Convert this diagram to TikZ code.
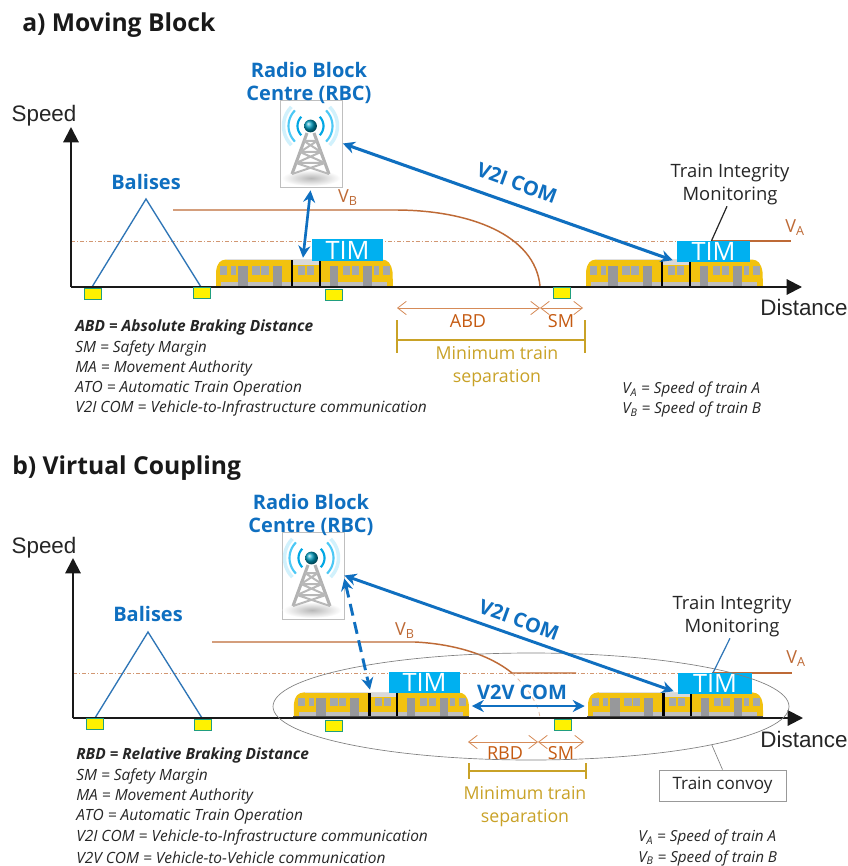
\documentclass[tikz,border=0pt]{standalone}
\usepackage{fontspec}
\setmainfont{Open Sans}
\newfontfamily\arialf{Liberation Sans}
\usetikzlibrary{arrows.meta,calc,shapes.geometric}
\definecolor{cblue}{HTML}{0F6FC0}
\definecolor{ctri}{HTML}{2E75B6}
\definecolor{cbrown}{HTML}{BE6A36}
\definecolor{ctext}{HTML}{C55A11}
\definecolor{cgold}{HTML}{C9A227}
\definecolor{ctim}{HTML}{00B0F0}
\definecolor{cyel}{HTML}{F2C20F}
\definecolor{cwin}{HTML}{A3A8AE}
\definecolor{cdoor}{HTML}{97989B}
\tikzset{
  lab/.style={inner sep=0pt,align=center},
  axlab/.style={lab,text=black!85,font=\arialf\fontsize{16.8}{19}\selectfont},
  titlelab/.style={lab,anchor=west,text=black!90,font=\bfseries\fontsize{18.5}{22}\selectfont},
  bluelab/.style={lab,text=cblue,font=\bfseries\fontsize{15}{17.3}\selectfont},
  tilab/.style={lab,text=black!85,font=\fontsize{13.8}{17.3}\selectfont},
  brlab/.style={lab,text=ctext,font=\fontsize{13.5}{15}\selectfont},
  goldlab/.style={lab,text=cgold,font=\fontsize{13.3}{17.3}\selectfont},
  leg/.style={lab,anchor=west,text=black!85,font=\itshape\fontsize{11.6}{13}\selectfont},
  legv/.style={lab,anchor=west,text=black!85,font=\itshape\fontsize{11.4}{13}\selectfont},
  timbox/.style={fill=ctim,inner sep=0pt,text=white,font=\fontsize{19}{20}\selectfont},
  rbcbox/.style={draw=black!25,line width=0.5pt,minimum width=62*0.75pt,minimum height=87*0.75pt,inner sep=0pt},
  trainbox/.style={inner sep=0pt,minimum width=177*0.75pt},
  balise/.style={draw=ctri!70!green,fill=yellow,line width=0.7pt,inner sep=0pt,minimum width=17*0.75pt,minimum height=11*0.75pt},
  axisline/.style={line width=1.5pt,black!90,-{Triangle[length=11.5pt,width=11.5pt]}},
  com/.style={cblue,line width=2pt,{Stealth[length=9pt,width=9pt]}-{Stealth[length=9pt,width=9pt]}},
  dimb/.style={ctext!70!white,line width=0.6pt,{Straight Barb[length=6.5pt,width=10pt]}-{Straight Barb[length=6.5pt,width=10pt]}},
  goldline/.style={cgold,line width=1.2pt},
  vline/.style={cbrown,line width=1.1pt},
  ddot/.style={cbrown!70!white,line width=0.4pt,dash pattern=on 3pt off 1.5pt on 0.8pt off 1.5pt},
  balisetri/.style={ctri,line width=1pt,line join=miter},
}
% train drawing: origin at its top left corner, 178 x 28 units
\newcommand{\traindraw}[4]{%
\begin{scope}[shift={(#1,#2)},xscale=#3,yscale=#4]
  \fill[cyel] (1,27) -- (1,13) .. controls (2,4) and (5,1) .. (11,0.5) -- (167,0.5) .. controls (173,1) and (176,4) .. (177.5,13) -- (178,27) -- cycle;
  \fill[black!12] (12,0) rectangle (165,1.2);
  \fill[black!15] (78,1) rectangle (104,6);
  \fill[black!25] (6,22.5) rectangle (172,26.5);
  \fill[black!70] (0,26.6) rectangle (178,27.5);
  \foreach \a/\b in {5/12,16/21,37/45,46/54,83/90,92/99,128/135,137/144,159/164,168/175}{
    \fill[cwin] (\a,7) rectangle (\b,15.5);}
  \foreach \a/\b in {23/33,58/67,115/123,148/157}{
    \fill[cdoor] (\a,6.5) rectangle (\b,26.5);}
  \foreach \a in {76,104}{\fill[black] (\a,1) rectangle (\a+2.4,26.5);}
\end{scope}}
% radio mast drawn inside its picture frame: origin at top left, 62 x 87 units
\newcommand{\mastdraw}[2]{%
\begin{scope}[shift={(#1,#2)}]
  \shade[inner color=black!28,outer color=white] (30,78) ellipse (22pt and 6pt);
  \foreach \r/\c/\w in {27/ctim!18/2.6pt,22/ctim!70/1.6pt,13/ctim!95!black/1.6pt}{
    \draw[\c,line width=\w] plot[domain=135:225,samples=15] ({29.5+\r*cos(\x)},{26+\r*sin(\x)});
    \draw[\c,line width=\w] plot[domain=-45:45,samples=15] ({29.5+\r*cos(\x)},{26+\r*sin(\x)});
  }
  \draw[black!30,line width=2.3pt,line join=round]
    (11,74) -- (26,33) (48,74) -- (33,33);
  \draw[black!28,line width=1.5pt]
    (23,41) -- (36,41) (19,52) -- (40,52) (15,63) -- (44,63)
    (23,41) -- (40,52) (36,41) -- (19,52) (19,52) -- (44,63) (40,52) -- (15,63)
    (15,63) -- (48,74) (44,63) -- (11,74);
  \shade[ball color=ctim!55!teal] (29.5,26) circle (4.8pt);
\end{scope}}
\begin{document}
\begin{tikzpicture}[x=0.75pt,y=-0.75pt]
\useasboundingbox (0,0) rectangle (848,866);
\fill[white] (0,0) rectangle (848,866);

%%%%%%%%%%%%%% a) Moving Block
\node[titlelab] (titleA) at (22,25) {a) Moving Block};
\node[axlab] (speedA) at (44,116) {Speed};
\node[axlab] (distA) at (804,307) {Distance};
\coordinate (originA) at (71,287);
\coordinate (yendA) at (71,127);
\coordinate (xendA) at (802,287);

\draw[ddot] (71,241) -- (677,241);
\draw[vline,line width=0.8pt] (711,241) -- (791,241);
\draw[vline] (173,210) -- (395,210) .. controls (470,210) and (535,235) .. (540,286);
\node[brlab,text=cbrown] (vbA) at (348,198) {V\textsubscript{B}};
\node[brlab,text=cbrown] (vaA) at (795,228) {V\textsubscript{A}};

\draw[balisetri] (92,287) -- (146,199) -- (201,287);
\node[bluelab] (balA) at (146,182) {Balises};

\traindraw{215}{259}{1}{1}
\traindraw{585}{259}{1}{1}
\draw[axisline] (originA) -- (yendA);
\draw[axisline] (originA) -- (xendA);

\node[trainbox,minimum height=28*0.75pt] (trainAb) at (304,273) {};
\node[trainbox,minimum height=28*0.75pt] (trainAa) at (674,273) {};
\node[timbox,minimum width=71*0.75pt,minimum height=22*0.75pt] (timAb) at (347.5,250) {TIM};
\node[timbox,minimum width=73*0.75pt,minimum height=21*0.75pt] (timAa) at (713.5,251.5) {TIM};

\node[balise] at (93,293.5) {};
\node[balise] at (202,293) {};
\node[balise] at (333.5,295) {};
\node[balise] at (562,293) {};

\node[rbcbox] (rbcA) at (311.5,143.5) {};
\mastdraw{281}{100}
\node[bluelab] (rbclabA) at (309,83) {Radio Block\\Centre (RBC)};

\draw[com] ($(rbcA.south)+(-1,3)$) -- ($(trainAb.north)+(-1,-1)$);
\draw[com,line width=2.3pt] (rbcA.east) -- ($(timAa.south west)+(-4,-2)$);
\node[bluelab,rotate=-20] (v2iA) at (517,183) {V2I COM};

\node[tilab] (tiA) at (730,184.5) {Train Integrity\\Monitoring};
\draw[black!85,line width=0.9pt] ($(tiA.south)+(-3,1)$) -- ($(timAa.north)+(-2,0)$);

\coordinate (abdL) at (397,308);
\coordinate (abdR) at (540,308);
\coordinate (smR) at (583,308);
\draw[dimb] (abdL) -- (abdR);
\draw[dimb] (abdR) -- (smR);
\node[brlab] (abdA) at (468,321) {ABD};
\node[brlab] (smA) at (561,321) {SM};
\coordinate (brLa) at (397,340);
\coordinate (brRa) at (585,340);
\draw[goldline] (brLa) -- (brRa);
\draw[goldline] (397,320) -- (397,353);
\draw[goldline] (585,320) -- (585,353);
\node[goldlab] (minA) at (497,366.5) {Minimum train\\separation};

\node[leg] at (75,327.5) {\bfseries ABD = Absolute Braking Distance};
\node[leg] at (75,348.5) {SM = Safety Margin};
\node[leg] at (75,368.5) {MA = Movement Authority};
\node[leg] at (75,388.5) {ATO = Automatic Train Operation};
\node[leg] at (75,408.5) {V2I COM = Vehicle-to-Infrastructure communication};
\node[legv] at (622,390) {V\textsubscript{A} = Speed of train A};
\node[legv] at (622,410) {V\textsubscript{B} = Speed of train B};

%%%%%%%%%%%%%% b) Virtual Coupling
\node[titlelab] (titleB) at (12,468) {b) Virtual Coupling};
\node[axlab] (speedB) at (44,548) {Speed};
\node[axlab] (distB) at (804,739) {Distance};
\coordinate (originB) at (73,718);
\coordinate (yendB) at (73,558);
\coordinate (xendB) at (803,718);

\draw[ddot] (73,673) -- (678,673);
\draw[cbrown!45!white,line width=0.6pt,dashed] (512,673) .. controls (530,690) and (538,705) .. (540,717);
\draw[vline] (212,642) -- (415,642) .. controls (455,644) and (490,655) .. (512,673) -- (576,673);
\draw[vline] (712,673) -- (792,673);
\node[brlab,text=cbrown] (vbB) at (405,631) {V\textsubscript{B}};
\node[brlab,text=cbrown] (vaB) at (796,659) {V\textsubscript{A}};

\draw[balisetri] (95,718) -- (148,632) -- (202,718);
\node[bluelab] (balB) at (148,614) {Balises};

\traindraw{293}{692}{0.99}{0.9}
\traindraw{587}{692}{0.99}{0.9}
\draw[axisline] (originB) -- (yendB);
\draw[axisline] (originB) -- (xendB);

\node[trainbox,minimum height=25*0.75pt] (trainBb) at (381,704.5) {};
\node[trainbox,minimum height=25*0.75pt] (trainBa) at (675.5,704.5) {};
\node[timbox,minimum width=71*0.75pt,minimum height=21*0.75pt] (timBb) at (424.5,682.5) {TIM};
\node[timbox,minimum width=74*0.75pt,minimum height=21*0.75pt] (timBa) at (715,683.5) {TIM};

\node[balise] at (95,724) {};
\node[balise] at (203,724.5) {};
\node[balise] at (334,726) {};
\node[balise] at (563,724.5) {};

\node[draw=black!50,line width=0.5pt,ellipse,minimum width=516*0.75pt,minimum height=107*0.75pt,inner sep=0pt] (convoy) at (531,706.5) {};

\node[rbcbox] (rbcB) at (313,575.5) {};
\mastdraw{282}{532}
\node[bluelab] (rbclabB) at (311,515) {Radio Block\\Centre (RBC)};

\draw[com,line width=2.2pt,dash pattern=on 9pt off 5pt] ($(rbcB.east)+(0,3)$) -- ($(trainBb.north)+(-11,-2)$);
\draw[com,line width=2.2pt] (rbcB.east) -- ($(timBa.south west)+(-4,-3)$);
\node[bluelab,rotate=-20] (v2iB) at (519,620) {V2I COM};
\draw[com] ($(trainBb.east)+(2,1.5)$) -- ($(trainBa.west)+(-2,1.5)$);
\node[bluelab] (v2vB) at (522,692) {V2V COM};

\node[tilab] (tiB) at (732,616.5) {Train Integrity\\Monitoring};
\draw[ctri,line width=0.9pt] ($(tiB.south)+(-2,1)$) -- ($(timBa.north)+(-2,0)$);

\coordinate (rbdL) at (468,742);
\coordinate (rbdR) at (538,742);
\coordinate (smRb) at (584,742);
\draw[dimb] (rbdL) -- (rbdR);
\draw[dimb] (rbdR) -- (smRb);
\node[brlab] (rbdB) at (505,753) {RBD};
\node[brlab] (smB) at (561,753) {SM};
\coordinate (brLb) at (469,771);
\coordinate (brRb) at (586,771);
\draw[goldline] (brLb) -- (brRb);
\draw[goldline] (469,763) -- (469,779);
\draw[goldline] (586,763) -- (586,779);
\node[goldlab] (minB) at (525,806.5) {Minimum train\\separation};

\node[draw=black!40,line width=0.6pt,minimum width=127*0.75pt,minimum height=31*0.75pt,inner sep=0pt,text=black!85,font=\fontsize{12.8}{14}\selectfont] (convoylab) at (722.5,785.5) {Train convoy};
\draw[black!50,line width=0.5pt] (convoylab.north) -- (convoy.-12.3);

\node[leg] at (76,755.5) {\bfseries RBD = Relative Braking Distance};
\node[leg] at (76,776.5) {SM = Safety Margin};
\node[leg] at (76,796.5) {MA = Movement Authority};
\node[leg] at (76,816.5) {ATO = Automatic Train Operation};
\node[leg] at (76,837.5) {V2I COM = Vehicle-to-Infrastructure communication};
\node[leg] at (76,857.5) {V2V COM = Vehicle-to-Vehicle communication};
\node[legv] at (638,837.5) {V\textsubscript{A} = Speed of train A};
\node[legv] at (638,858) {V\textsubscript{B} = Speed of train B};
\end{tikzpicture}
\end{document}
